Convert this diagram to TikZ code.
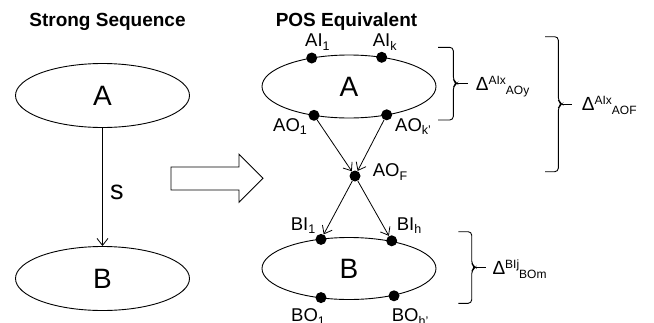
\documentclass[tikz,border=0pt]{standalone}
\usepackage{fontspec}
\setmainfont{Liberation Sans}
\usetikzlibrary{shapes.geometric,arrows.meta}

% port label: main text with a lowered small index
\newcommand\portlbl[2]{#1\raisebox{-0.2em}{\fontsize{12.5}{12.5}\selectfont #2}}
% delta label: Delta with a raised index followed by a lowered index
\newcommand\deltalbl[2]{\fontsize{19}{19}\selectfont Δ\raisebox{6pt}{\fontsize{12}{12}\selectfont #1}\raisebox{-4.5pt}{\fontsize{12}{12}\selectfont #2}}

\begin{document}
\begin{tikzpicture}[x=1pt,y=-1pt,
  blob/.style={ellipse, draw, line width=0.9pt, minimum width=174pt,
    minimum height=64pt, inner sep=0pt, font=\fontsize{28}{28}\selectfont},
  port/.style={circle, fill=black, minimum size=11pt, inner sep=0pt},
  plbl/.style={anchor=base west, inner sep=0pt, font=\fontsize{18.5}{18.5}\selectfont},
  dlbl/.style={anchor=base west, inner sep=0pt},
  arr/.style={-{Straight Barb[length=7pt,width=11pt]}, line width=0.8pt},
  title/.style={anchor=base, inner sep=0pt, font=\fontsize{19}{19}\selectfont\bfseries},
  bracket/.style={line width=0.9pt, rounded corners=3.5pt}]
\useasboundingbox (0,0) rectangle (654,322);

% titles
\node[title] (t1) at (107.5,26) {Strong Sequence};
\node[title] (t2) at (346.5,26) {POS Equivalent};

% strong sequence
\node[blob] (la) at (102.5,95.5) {A};
\node[blob] (lb) at (102.5,278.5) {B};
\draw[arr] (la) -- (lb);
\node[inner sep=0pt, font=\fontsize{27}{27}\selectfont] (slbl) at (116.8,192) {s};

% block arrow
\draw[line width=0.9pt] (171,167) -- (239,167) -- (239,154.3) -- (263,178.3)
  -- (239,202.3) -- (239,190) -- (171,190) -- cycle;

% POS equivalent
\node[blob, minimum height=63pt] (ra) at (349,86.5) {A};
\node[blob, minimum height=62pt] (rb) at (349,268.5) {B};

\node[port] (ai1) at (311.7,58.0) {};
\node[port] (aik) at (381.7,57.3) {};
\node[port] (ao1) at (314.0,115.3) {};
\node[port] (aok) at (386.7,114.8) {};
\node[port] (aof) at (355,176) {};
\node[port] (bi1) at (321,239.4) {};
\node[port] (bih) at (391.7,240.8) {};
\node[port] (bo1) at (321,297.6) {};
\node[port] (boh) at (394,295.8) {};

\draw[arr] (ao1) -- (aof);
\draw[arr] (aok) -- (aof);
\draw[arr] (aof) -- (bi1);
\draw[arr] (aof) -- (bih);

\node[plbl] (lai1) at (305,46.5) {\portlbl{AI}{1}};
\node[plbl] (laik) at (372.7,46.5) {\portlbl{AI}{k}};
\node[plbl] (lao1) at (273,131) {\portlbl{AO}{1}};
\node[plbl] (laok) at (395,131) {\portlbl{AO}{k'}};
\node[plbl] (laof) at (372.7,176.5) {\portlbl{AO}{F}};
\node[plbl] (lbi1) at (290.7,230) {\portlbl{BI}{1}};
\node[plbl] (lbih) at (396.7,230) {\portlbl{BI}{h}};
\node[plbl] (lbo1) at (291,321.3) {\portlbl{BO}{1}};
\node[plbl] (lboh) at (391.7,321.3) {\portlbl{BO}{h'}};

% brackets
\draw[bracket] (438,47.3) -- (453.3,47.3) -- (453.3,80.3) -- (457,83.3)
  -- (453.3,86.3) -- (453.3,120) -- (438,120);
\draw[line width=0.9pt] (456.5,83.3) -- (468.3,83.3);
\node[dlbl] (d1) at (475.7,90) {\deltalbl{AIx}{AOy}};

\draw[bracket] (545,36.7) -- (558.3,36.7) -- (558.3,101) -- (562,104)
  -- (558.3,107) -- (558.3,171.7) -- (545,171.7);
\draw[line width=0.9pt] (561.5,104) -- (571.7,104);
\node[dlbl] (d2) at (581.7,110) {\deltalbl{AIx}{AOF}};

\draw[bracket] (458.3,231.7) -- (471.7,231.7) -- (471.7,264.3) -- (475.4,267.3)
  -- (471.7,270.3) -- (471.7,303.3) -- (458.3,303.3);
\draw[line width=1.6pt] (474.5,267.3) -- (485.7,267.3);
\node[dlbl] (d3) at (492.3,274) {\deltalbl{BIj}{BOm}};
\end{tikzpicture}
\end{document}
